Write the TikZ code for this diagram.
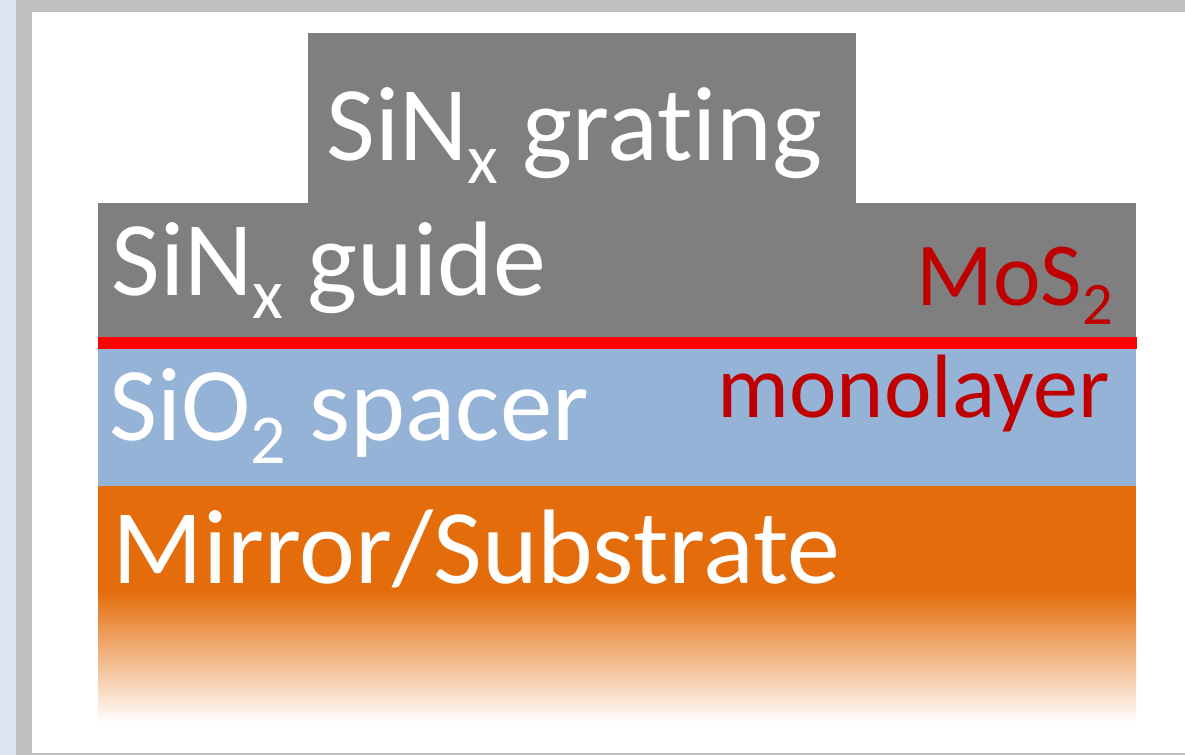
\documentclass[tikz,border=0pt]{standalone}
\usepackage{fontspec}
\setmainfont[Ligatures=NoCommon]{Carlito}
\usetikzlibrary{positioning}

\definecolor{slidebg}{HTML}{DBE5F1}
\definecolor{framegray}{HTML}{BFBFBF}
\definecolor{sinx}{HTML}{7F7F7F}
\definecolor{sio}{HTML}{95B3D7}
\definecolor{mirror}{HTML}{E46C0A}
\definecolor{mosred}{HTML}{C00000}

\newcommand\lsub[1]{\raisebox{-0.22em}{\scalebox{0.67}{#1}}}

\begin{document}
\begin{tikzpicture}[x=0.5pt, y=-0.5pt,
  lbl/.style={anchor=base west, inner sep=0pt, text=white,
              font=\fontsize{53}{64}\selectfont},
  molbl/.style={anchor=base east, inner sep=0pt, text=mosred,
                font=\fontsize{45}{54}\selectfont},
]
  \useasboundingbox (0,0) rectangle (1185,755);

  % --- slide frame ---
  \fill[slidebg]   (0,0)    rectangle (16,755);
  \fill[framegray] (16,0)   rectangle (1185,12);
  \fill[framegray] (16,0)   rectangle (32,755);
  \fill[framegray] (32,753) rectangle (1185,755);

  % --- layer stack ---
  \fill[mirror] (98,486) rectangle (1136,591);
  \shade[top color=mirror, bottom color=white] (98,590) rectangle (1136,723);
  \fill[sio]    (98,349) rectangle (1136,486);
  \fill[sinx]   (98,203) rectangle (1136,338);
  \fill[sinx]   (308,33) rectangle (856,204);
  \fill[red]    (98,337) rectangle (1137,349);

  % --- labels ---
  \node[lbl] (grating)   at (326,160) {SiN\lsub{x} grating};
  \node[lbl] (guide)     at (111,295) {SiN\lsub{x} guide};
  \node[lbl, font=\fontsize{52.3}{64}\selectfont] (spacer) at (109,440)
    {SiO\lsub{2} spacer};
  \node[lbl] (substrate) at (112,583) {Mirror/Substrate};
  \node[molbl] (mos)  at (1113,305) {MoS\lsub{2}};
  \node[molbl] (mono) at (1110,417) {monolayer};
\end{tikzpicture}
\end{document}
